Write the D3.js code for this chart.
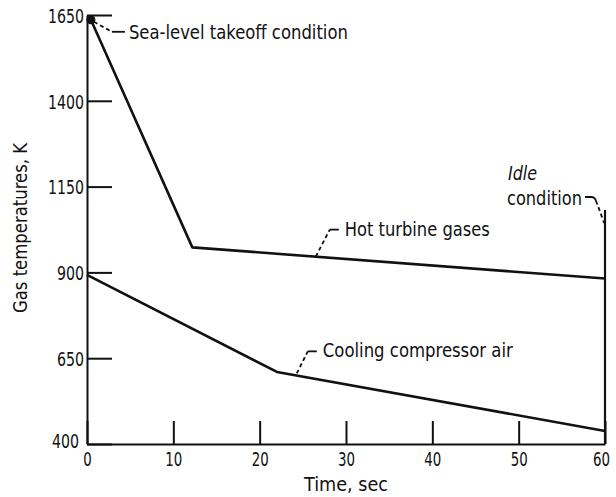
<!DOCTYPE html>
<meta charset="utf-8">
<style>
  body { margin: 0; background: #fff; }
  text { font-family: "DejaVu Sans", sans-serif; font-stretch: condensed; fill: #111; }
  .axis text { font-size: 20px; }
  .axis path, .axis line { stroke: #111; stroke-width: 2; }
  .curve { fill: none; stroke: #111; stroke-width: 2.6; stroke-linejoin: round; }
  .lead { fill: none; stroke: #111; stroke-width: 1.8; }
  .dash { stroke-dasharray: 4,3; }
  .note { font-size: 20px; }
</style>
<body>
<svg width="616" height="497"></svg>
<script src="https://cdn.jsdelivr.net/npm/d3@7"></script>
<script>

var timeTicks = [0, 10, 20, 30, 40, 50, 60];
var tempTicks = [400, 650, 900, 1150, 1400, 1650];

// hot turbine gases
var hotTime = [0.45, 12.2, 60];
var hotTemp = [1636, 973, 882];

// cooling compressor air
var coolTime = [0, 22, 60];
var coolTemp = [893, 610, 438];

// idle condition marker (vertical line at end of run)
var idleTime = [60, 60];
var idleTemp = [400, 1082];

var svg = d3.select("svg");

var x = d3.scaleLinear().domain([0, 60]).range([87, 605]);
var y = d3.scaleLinear().domain([400, 1650]).range([444, 15]);

function fit(sel, w) {
  sel.attr("textLength", w).attr("lengthAdjust", "spacingAndGlyphs");
}

// axes
var xAxis = svg.append("g")
    .attr("class", "axis")
    .attr("transform", "translate(0," + y(400) + ")")
    .call(d3.axisBottom(x).tickValues(timeTicks).tickFormat(d3.format("d"))
      .tickSize(-23).tickSizeOuter(0).tickPadding(7));
xAxis.selectAll("text").attr("dy", "0.74em")
    .each(function(d) { fit(d3.select(this), String(d).length * 8.5); });
xAxis.selectAll(".tick text").filter(function(d) { return d === 60; })
    .attr("dx", "-4");

var yAxis = svg.append("g")
    .attr("class", "axis")
    .attr("transform", "translate(" + x(0) + ",0)")
    .call(d3.axisLeft(y).tickValues(tempTicks).tickFormat(d3.format("d"))
      .tickSize(-25).tickSizeOuter(0).tickPadding(3));
yAxis.selectAll("text").attr("dy", "0.36em")
    .each(function(d) { fit(d3.select(this), String(d).length * 9); });
yAxis.selectAll(".tick text").filter(function(d) { return d === 400; })
    .attr("dx", "-5").attr("dy", "0.15em");

// axis titles
svg.append("text")
    .attr("class", "note")
    .attr("x", 346).attr("y", 491)
    .attr("text-anchor", "middle")
    .text("Time, sec")
    .call(fit, 84);

svg.append("text")
    .attr("class", "note")
    .attr("transform", "translate(27,228) rotate(-90)")
    .attr("text-anchor", "middle")
    .text("Gas temperatures, K")
    .call(fit, 170);

// curves
var line = d3.line().x(function(d) { return x(d[0]); }).y(function(d) { return y(d[1]); });

svg.append("path").attr("class", "curve")
    .attr("d", line(d3.zip(hotTime, hotTemp)));
svg.append("path").attr("class", "curve")
    .attr("d", line(d3.zip(coolTime, coolTemp)));
svg.append("path").attr("class", "curve")
    .style("stroke-width", 2.2)
    .attr("d", line(d3.zip(idleTime, idleTemp)));

// takeoff point
svg.append("circle")
    .attr("cx", x(hotTime[0])).attr("cy", y(hotTemp[0]))
    .attr("r", 4.5).attr("fill", "#111");

// annotations: leader offsets are relative to an anchor on the chart
function note(ax, ay, dashPts, solidPts, label, tx, ty, w) {
  var g = svg.append("g").attr("transform", "translate(" + ax + "," + ay + ")");
  g.append("path").attr("class", "lead dash").attr("d", d3.line()(dashPts));
  if (solidPts) g.append("path").attr("class", "lead").attr("d", d3.line()(solidPts));
  var t = g.append("text").attr("class", "note").attr("x", tx).attr("y", ty).text(label);
  fit(t, w);
  return g;
}

note(x(hotTime[0]) + 3, y(hotTemp[0]) + 2,
  [[0, 0], [18, 10]], [[18, 10], [31, 10]],
  "Sea-level takeoff condition", 35, 17, 219);

note(x(26.5), y(946),
  [[0, 0], [14, -27]], [[14, -27], [23, -27]],
  "Hot turbine gases", 29, -21, 145);

note(x(24.3), y(600),
  [[0, -2], [11, -24]], [[11, -24], [20, -24]],
  "Cooling compressor air", 26, -18, 190);

// idle condition
var ig = svg.append("g").attr("transform", "translate(" + x(60) + "," + y(1044) + ")");
ig.append("path").attr("class", "lead")
    .attr("d", "M-20,-26 L-14,-26 Q-10,-26 -9,-22");
ig.append("path").attr("class", "lead dash")
    .attr("d", "M-9,-22 Q-5,-12 -1,0");
ig.append("text").attr("class", "note")
    .attr("x", -23).attr("y", -18).attr("text-anchor", "end")
    .text("condition").call(fit, 75);
ig.append("text").attr("class", "note")
    .attr("x", -97).attr("y", -43)
    .style("font-style", "italic")
    .text("Idle").call(fit, 29);

</script>
</body>
